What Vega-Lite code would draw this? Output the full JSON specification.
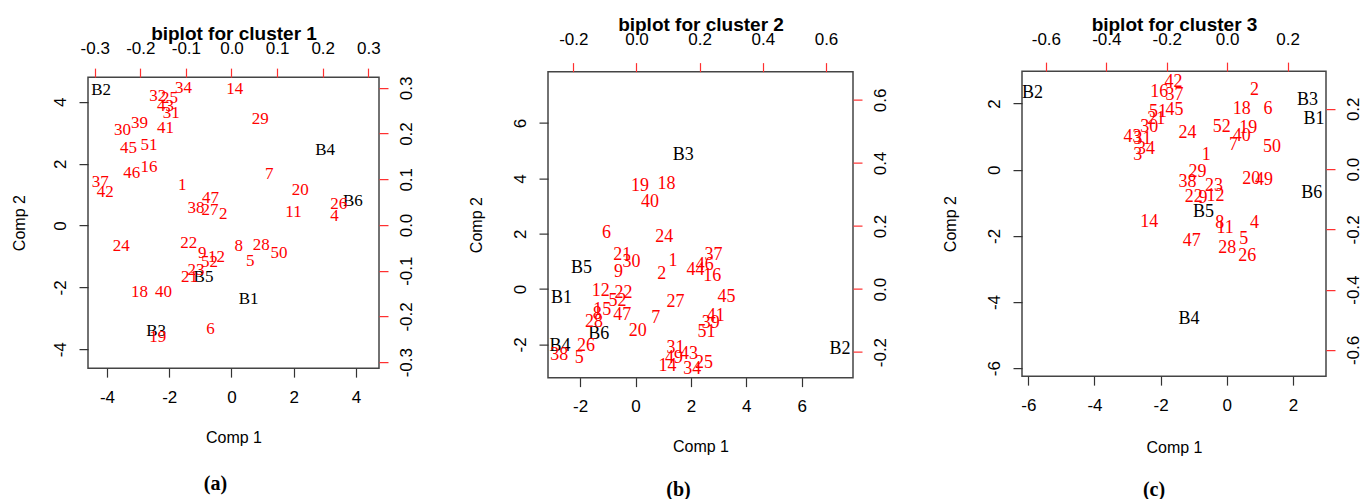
{
  "$schema": "https://vega.github.io/schema/vega-lite/v6.json",
  "padding": {"left": 10, "top": 14, "right": 0, "bottom": 0},
  "background": "white",
  "spacing": 52,
  "center": true,
  "config": {
    "view": {"stroke": "#444", "strokeWidth": 1.5},
    "axis": {
      "grid": false, "domain": false, "labelFlush": false, "labelOverlap": false,
      "labelFont": "Liberation Sans", "labelFontSize": 17, "labelColor": "black",
      "titleFont": "Liberation Sans", "titleFontSize": 16, "titleFontWeight": "normal", "titleColor": "black",
      "tickSize": 9, "tickWidth": 1.2
    },
    "text": {"font": "Liberation Serif"}
  },
  "datasets": {
    "s1": [
      {"label": "B2", "comp1": -4.19, "comp2": 4.37},
      {"label": "B4", "comp1": 3.01, "comp2": 2.45},
      {"label": "B6", "comp1": 3.90, "comp2": 0.79},
      {"label": "B5", "comp1": -0.90, "comp2": -1.65},
      {"label": "B1", "comp1": 0.55, "comp2": -2.37},
      {"label": "B3", "comp1": -2.42, "comp2": -3.40}
    ],
    "l1": [
      {"label": "34", "load1": -0.105, "load2": 0.300},
      {"label": "14", "load1": 0.007, "load2": 0.297},
      {"label": "32", "load1": -0.162, "load2": 0.282},
      {"label": "25", "load1": -0.136, "load2": 0.277},
      {"label": "43", "load1": -0.145, "load2": 0.260},
      {"label": "31", "load1": -0.132, "load2": 0.245},
      {"label": "30", "load1": -0.239, "load2": 0.208},
      {"label": "39", "load1": -0.202, "load2": 0.224},
      {"label": "41", "load1": -0.145, "load2": 0.212},
      {"label": "29", "load1": 0.063, "load2": 0.231},
      {"label": "45", "load1": -0.226, "load2": 0.168},
      {"label": "51", "load1": -0.181, "load2": 0.176},
      {"label": "46", "load1": -0.219, "load2": 0.113},
      {"label": "16", "load1": -0.181, "load2": 0.126},
      {"label": "7", "load1": 0.083, "load2": 0.111},
      {"label": "37", "load1": -0.288, "load2": 0.093},
      {"label": "42", "load1": -0.277, "load2": 0.072},
      {"label": "1", "load1": -0.108, "load2": 0.087},
      {"label": "20", "load1": 0.151, "load2": 0.076},
      {"label": "47", "load1": -0.046, "load2": 0.058},
      {"label": "38", "load1": -0.078, "load2": 0.038},
      {"label": "27", "load1": -0.047, "load2": 0.033},
      {"label": "2", "load1": -0.018, "load2": 0.024},
      {"label": "11", "load1": 0.136, "load2": 0.028},
      {"label": "26", "load1": 0.235, "load2": 0.046},
      {"label": "4", "load1": 0.226, "load2": 0.020},
      {"label": "24", "load1": -0.242, "load2": -0.047},
      {"label": "22", "load1": -0.094, "load2": -0.040},
      {"label": "9", "load1": -0.064, "load2": -0.062},
      {"label": "12", "load1": -0.033, "load2": -0.070},
      {"label": "52", "load1": -0.048, "load2": -0.082},
      {"label": "23", "load1": -0.078, "load2": -0.099},
      {"label": "21", "load1": -0.092, "load2": -0.114},
      {"label": "8", "load1": 0.016, "load2": -0.046},
      {"label": "28", "load1": 0.065, "load2": -0.044},
      {"label": "50", "load1": 0.104, "load2": -0.062},
      {"label": "5", "load1": 0.041, "load2": -0.078},
      {"label": "18", "load1": -0.202, "load2": -0.147},
      {"label": "40", "load1": -0.149, "load2": -0.147},
      {"label": "19", "load1": -0.162, "load2": -0.245},
      {"label": "6", "load1": -0.046, "load2": -0.228}
    ],
    "s2": [
      {"label": "B3", "comp1": 1.72, "comp2": 4.83},
      {"label": "B5", "comp1": -1.95, "comp2": 0.76},
      {"label": "B1", "comp1": -2.67, "comp2": -0.33},
      {"label": "B6", "comp1": -1.33, "comp2": -1.63},
      {"label": "B4", "comp1": -2.73, "comp2": -2.04},
      {"label": "B2", "comp1": 7.38, "comp2": -2.16}
    ],
    "l2": [
      {"label": "19", "load1": 0.011, "load2": 0.326},
      {"label": "18", "load1": 0.095, "load2": 0.333},
      {"label": "40", "load1": 0.043, "load2": 0.275},
      {"label": "6", "load1": -0.095, "load2": 0.178},
      {"label": "24", "load1": 0.088, "load2": 0.165},
      {"label": "21", "load1": -0.045, "load2": 0.109},
      {"label": "30", "load1": -0.016, "load2": 0.086},
      {"label": "9", "load1": -0.057, "load2": 0.054},
      {"label": "1", "load1": 0.116, "load2": 0.090},
      {"label": "2", "load1": 0.080, "load2": 0.047},
      {"label": "37", "load1": 0.244, "load2": 0.107},
      {"label": "46", "load1": 0.216, "load2": 0.077},
      {"label": "44", "load1": 0.187, "load2": 0.060},
      {"label": "16", "load1": 0.240, "load2": 0.040},
      {"label": "12", "load1": -0.113, "load2": -0.005},
      {"label": "22", "load1": -0.041, "load2": -0.012},
      {"label": "52", "load1": -0.060, "load2": -0.037},
      {"label": "27", "load1": 0.124, "load2": -0.042},
      {"label": "45", "load1": 0.285, "load2": -0.026},
      {"label": "15", "load1": -0.108, "load2": -0.067},
      {"label": "8", "load1": -0.124, "load2": -0.078},
      {"label": "47", "load1": -0.045, "load2": -0.081},
      {"label": "7", "load1": 0.061, "load2": -0.092},
      {"label": "28", "load1": -0.134, "load2": -0.105},
      {"label": "41", "load1": 0.251, "load2": -0.087},
      {"label": "39", "load1": 0.235, "load2": -0.108},
      {"label": "51", "load1": 0.222, "load2": -0.137},
      {"label": "20", "load1": 0.004, "load2": -0.132},
      {"label": "26", "load1": -0.160, "load2": -0.180},
      {"label": "38", "load1": -0.244, "load2": -0.208},
      {"label": "5", "load1": -0.181, "load2": -0.219},
      {"label": "31", "load1": 0.124, "load2": -0.187},
      {"label": "43", "load1": 0.166, "load2": -0.207},
      {"label": "49", "load1": 0.119, "load2": -0.219},
      {"label": "14", "load1": 0.098, "load2": -0.244},
      {"label": "25", "load1": 0.214, "load2": -0.235},
      {"label": "34", "load1": 0.177, "load2": -0.254}
    ],
    "s3": [
      {"label": "B2", "comp1": -5.87, "comp2": 2.33},
      {"label": "B3", "comp1": 2.44, "comp2": 2.11},
      {"label": "B1", "comp1": 2.64, "comp2": 1.52},
      {"label": "B6", "comp1": 2.57, "comp2": -0.70},
      {"label": "B5", "comp1": -0.70, "comp2": -1.27},
      {"label": "B4", "comp1": -1.14, "comp2": -4.52}
    ],
    "l3": [
      {"label": "42", "load1": -0.178, "load2": 0.289},
      {"label": "16", "load1": -0.225, "load2": 0.256},
      {"label": "37", "load1": -0.174, "load2": 0.245},
      {"label": "2", "load1": 0.090, "load2": 0.263},
      {"label": "18", "load1": 0.048, "load2": 0.199},
      {"label": "6", "load1": 0.135, "load2": 0.199},
      {"label": "45", "load1": -0.174, "load2": 0.195},
      {"label": "51", "load1": -0.229, "load2": 0.190},
      {"label": "21", "load1": -0.235, "load2": 0.167},
      {"label": "30", "load1": -0.258, "load2": 0.139},
      {"label": "43", "load1": -0.313, "load2": 0.106},
      {"label": "31", "load1": -0.280, "load2": 0.099},
      {"label": "34", "load1": -0.269, "load2": 0.068},
      {"label": "3", "load1": -0.296, "load2": 0.046},
      {"label": "24", "load1": -0.131, "load2": 0.120},
      {"label": "52", "load1": -0.018, "load2": 0.139},
      {"label": "19", "load1": 0.070, "load2": 0.136},
      {"label": "40", "load1": 0.048, "load2": 0.110},
      {"label": "7", "load1": 0.021, "load2": 0.079},
      {"label": "50", "load1": 0.148, "load2": 0.074},
      {"label": "1", "load1": -0.069, "load2": 0.048},
      {"label": "29", "load1": -0.098, "load2": -0.009},
      {"label": "38", "load1": -0.131, "load2": -0.042},
      {"label": "23", "load1": -0.044, "load2": -0.056},
      {"label": "20", "load1": 0.080, "load2": -0.034},
      {"label": "49", "load1": 0.122, "load2": -0.036},
      {"label": "22", "load1": -0.111, "load2": -0.091},
      {"label": "9", "load1": -0.080, "load2": -0.097},
      {"label": "12", "load1": -0.039, "load2": -0.089},
      {"label": "14", "load1": -0.258, "load2": -0.177},
      {"label": "8", "load1": -0.025, "load2": -0.180},
      {"label": "11", "load1": -0.007, "load2": -0.196},
      {"label": "4", "load1": 0.090, "load2": -0.180},
      {"label": "5", "load1": 0.055, "load2": -0.231},
      {"label": "47", "load1": -0.117, "load2": -0.240},
      {"label": "28", "load1": 0.000, "load2": -0.262},
      {"label": "26", "load1": 0.066, "load2": -0.290}
    ]
  },
  "hconcat": [
    {
      "width": 291, "height": 291,
      "title": {"text": "(a)", "orient": "bottom", "anchor": "middle", "frame": "group", "dx": -18, "offset": 29, "font": "Liberation Serif", "fontWeight": "bold", "fontSize": 20, "color": "black"},
      "layer": [
        {
          "data": {"name": "s1"},
          "mark": {"type": "text", "fontSize": 17, "color": "black"},
          "encoding": {
            "x": {"field": "comp1", "type": "quantitative", "scale": {"domain": [-4.61, 4.74], "nice": false, "zero": false},
                  "axis": {"orient": "bottom", "title": "Comp 1", "values": [-4, -2, 0, 2, 4], "labelPadding": 12, "titlePadding": 24, "tickColor": "#333", "labelExpr": "(datum.value < 0 ? '-' : '') + abs(datum.value)"}},
            "y": {"field": "comp2", "type": "quantitative", "scale": {"domain": [-4.61, 4.80], "nice": false, "zero": false},
                  "axis": {"orient": "left", "title": "Comp 2", "values": [-4, -2, 0, 2, 4], "labelAngle": -90, "labelAlign": "center", "labelBaseline": "bottom", "labelPadding": 10, "titlePadding": 24, "tickColor": "#333", "labelExpr": "(datum.value < 0 ? '-' : '') + abs(datum.value)"}},
            "text": {"field": "label"}
          }
        },
        {
          "data": {"name": "l1"},
          "mark": {"type": "text", "fontSize": 17, "color": "#ff0000"},
          "encoding": {
            "x": {"field": "load1", "type": "quantitative", "scale": {"domain": [-0.3147, 0.3235], "nice": false, "zero": false},
                  "axis": {"orient": "top", "title": "biplot for cluster 1", "titleFontWeight": "bold", "titleFontSize": 19, "titlePadding": -4, "values": [-0.3, -0.2, -0.1, 0, 0.1, 0.2, 0.3], "labelPadding": 11, "tickColor": "#ff3030", "labelExpr": "(datum.value < 0 ? '-' : '') + format(abs(datum.value), '.1f')"}},
            "y": {"field": "load2", "type": "quantitative", "scale": {"domain": [-0.313, 0.3234], "nice": false, "zero": false},
                  "axis": {"orient": "right", "title": null, "values": [-0.3, -0.2, -0.1, 0, 0.1, 0.2, 0.3], "labelAngle": -90, "labelAlign": "center", "labelBaseline": "top", "labelPadding": 10, "tickColor": "#ff3030", "labelExpr": "(datum.value < 0 ? '-' : '') + format(abs(datum.value), '.1f')"}},
            "text": {"field": "label"}
          }
        }
      ],
      "resolve": {"scale": {"x": "independent", "y": "independent"}, "axis": {"x": "independent", "y": "independent"}}
    },
    {
      "width": 305, "height": 306,
      "title": {"text": "(b)", "orient": "bottom", "anchor": "middle", "frame": "group", "dx": -22, "offset": 25, "font": "Liberation Serif", "fontWeight": "bold", "fontSize": 20, "color": "black"},
      "layer": [
        {
          "data": {"name": "s2"},
          "mark": {"type": "text", "fontSize": 18, "color": "black"},
          "encoding": {
            "x": {"field": "comp1", "type": "quantitative", "scale": {"domain": [-3.16, 7.85], "nice": false, "zero": false},
                  "axis": {"orient": "bottom", "title": "Comp 1", "values": [-2, 0, 2, 4, 6], "labelPadding": 12, "titlePadding": 24, "tickColor": "#333", "labelExpr": "(datum.value < 0 ? '-' : '') + abs(datum.value)"}},
            "y": {"field": "comp2", "type": "quantitative", "scale": {"domain": [-3.2, 7.86], "nice": false, "zero": false},
                  "axis": {"orient": "left", "title": "Comp 2", "values": [-2, 0, 2, 4, 6], "labelAngle": -90, "labelAlign": "center", "labelBaseline": "bottom", "labelPadding": 10, "titlePadding": 27, "tickColor": "#333", "labelExpr": "(datum.value < 0 ? '-' : '') + abs(datum.value)"}},
            "text": {"field": "label"}
          }
        },
        {
          "data": {"name": "l2"},
          "mark": {"type": "text", "fontSize": 18, "color": "#ff0000"},
          "encoding": {
            "x": {"field": "load1", "type": "quantitative", "scale": {"domain": [-0.280, 0.6855], "nice": false, "zero": false},
                  "axis": {"orient": "top", "title": "biplot for cluster 2", "titleFontWeight": "bold", "titleFontSize": 19, "titlePadding": -4, "values": [-0.2, 0, 0.2, 0.4, 0.6], "labelPadding": 14, "tickColor": "#ff3030", "labelExpr": "(datum.value < 0 ? '-' : '') + format(abs(datum.value), '.1f')"}},
            "y": {"field": "load2", "type": "quantitative", "scale": {"domain": [-0.281, 0.690], "nice": false, "zero": false},
                  "axis": {"orient": "right", "title": null, "values": [-0.2, 0, 0.2, 0.4, 0.6], "labelAngle": -90, "labelAlign": "center", "labelBaseline": "top", "labelPadding": 10, "tickColor": "#ff3030", "labelExpr": "(datum.value < 0 ? '-' : '') + format(abs(datum.value), '.1f')"}},
            "text": {"field": "label"}
          }
        }
      ],
      "resolve": {"scale": {"x": "independent", "y": "independent"}, "axis": {"x": "independent", "y": "independent"}}
    },
    {
      "width": 304, "height": 305,
      "title": {"text": "(c)", "orient": "bottom", "anchor": "middle", "frame": "group", "dx": -20, "offset": 25, "font": "Liberation Serif", "fontWeight": "bold", "fontSize": 20, "color": "black"},
      "layer": [
        {
          "data": {"name": "s3"},
          "mark": {"type": "text", "fontSize": 18, "color": "black"},
          "encoding": {
            "x": {"field": "comp1", "type": "quantitative", "scale": {"domain": [-6.19, 3.0], "nice": false, "zero": false},
                  "axis": {"orient": "bottom", "title": "Comp 1", "values": [-6, -4, -2, 0, 2], "labelPadding": 12, "titlePadding": 26, "tickColor": "#333", "labelExpr": "(datum.value < 0 ? '-' : '') + abs(datum.value)"}},
            "y": {"field": "comp2", "type": "quantitative", "scale": {"domain": [-6.24, 2.98], "nice": false, "zero": false},
                  "axis": {"orient": "left", "title": "Comp 2", "values": [-6, -4, -2, 0, 2], "labelAngle": -90, "labelAlign": "center", "labelBaseline": "bottom", "labelPadding": 10, "titlePadding": 27, "tickColor": "#333", "labelExpr": "(datum.value < 0 ? '-' : '') + abs(datum.value)"}},
            "text": {"field": "label"}
          }
        },
        {
          "data": {"name": "l3"},
          "mark": {"type": "text", "fontSize": 18, "color": "#ff0000"},
          "encoding": {
            "x": {"field": "load1", "type": "quantitative", "scale": {"domain": [-0.679, 0.327], "nice": false, "zero": false},
                  "axis": {"orient": "top", "title": "biplot for cluster 3", "titleFontWeight": "bold", "titleFontSize": 19, "titlePadding": -4, "values": [-0.6, -0.4, -0.2, 0, 0.2], "labelPadding": 14, "tickColor": "#ff3030", "labelExpr": "(datum.value < 0 ? '-' : '') + format(abs(datum.value), '.1f')"}},
            "y": {"field": "load2", "type": "quantitative", "scale": {"domain": [-0.687, 0.325], "nice": false, "zero": false},
                  "axis": {"orient": "right", "title": null, "values": [-0.6, -0.4, -0.2, 0, 0.2], "labelAngle": -90, "labelAlign": "center", "labelBaseline": "top", "labelPadding": 10, "tickColor": "#ff3030", "labelExpr": "(datum.value < 0 ? '-' : '') + format(abs(datum.value), '.1f')"}},
            "text": {"field": "label"}
          }
        }
      ],
      "resolve": {"scale": {"x": "independent", "y": "independent"}, "axis": {"x": "independent", "y": "independent"}}
    }
  ]
}
